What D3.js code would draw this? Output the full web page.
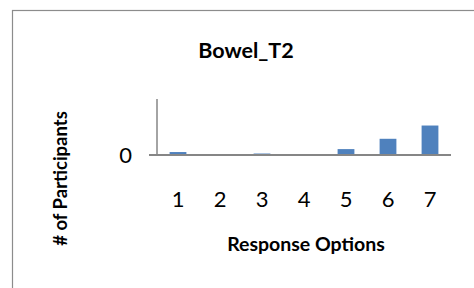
<!DOCTYPE html>
<html>
<head>
<meta charset="utf-8">
<script src="https://cdn.jsdelivr.net/npm/d3@7"></script>
<style>
  body { margin: 0; background: #fff; }
  text { font-family: Lato, "Open Sans", sans-serif; fill: #000; }
</style>
</head>
<body>
<svg width="474" height="288"></svg>
<script>
const categories = ["1", "2", "3", "4", "5", "6", "7"];
const participants = [2, 0, 1, 0, 4, 11, 20];
const yTicks = [0];

const svg = d3.select("svg"),
    margin = {top: 99, right: 23, bottom: 133, left: 157};
const width = +svg.attr("width") - margin.left - margin.right,
    height = +svg.attr("height") - margin.top - margin.bottom;

// chart frame (cut off at right and bottom)
svg.append("rect")
  .attr("x", 12.5).attr("y", 10.5)
  .attr("width", 480).attr("height", 300)
  .attr("fill", "none")
  .attr("stroke", "#8c8c8c")
  .attr("stroke-width", 1.2);

const x = d3.scaleBand().domain(categories).range([0, width]).paddingInner(0.6).paddingOuter(0.3);
const y = d3.scaleLinear().domain([0, 38]).range([height, 0]);

const g = svg.append("g")
  .attr("transform", "translate(" + margin.left + "," + margin.top + ")");

g.selectAll(".bar").data(participants)
  .enter().append("rect")
    .attr("class", "bar")
    .attr("x", (d, i) => x(categories[i]))
    .attr("y", d => y(d))
    .attr("width", x.bandwidth())
    .attr("height", d => y(0) - y(d))
    .attr("fill", "#4f81bd");

// x axis
const axisX = g.append("g")
  .attr("transform", "translate(0," + height + ")")
  .call(d3.axisBottom(x).tickSize(0).tickPadding(36));
axisX.select(".domain").remove();
axisX.selectAll("text")
  .style("font-size", "22px")
  .attr("fill", "#000");
axisX.append("line")
  .attr("x1", -8).attr("x2", width)
  .attr("stroke", "#868686").attr("stroke-width", 2);

// y axis
const axisY = g.append("g")
  .call(d3.axisLeft(y).tickValues(yTicks).tickSize(0).tickPadding(25));
axisY.select(".domain").remove();
axisY.selectAll("text")
  .style("font-size", "22px")
  .attr("fill", "#000");
axisY.append("line")
  .attr("y1", 0).attr("y2", height)
  .attr("stroke", "#868686").attr("stroke-width", 1.5);

svg.append("text")
  .attr("x", 246).attr("y", 57.5)
  .attr("text-anchor", "middle")
  .style("font-size", "21.5px").style("font-weight", "bold")
  .text("Bowel_T2");

svg.append("text")
  .attr("x", 306).attr("y", 251)
  .attr("text-anchor", "middle")
  .style("font-size", "19.5px").style("font-weight", "bold")
  .text("Response Options");

svg.append("text")
  .attr("transform", "translate(67,178.5) rotate(-90)")
  .attr("text-anchor", "middle")
  .style("font-size", "18.5px").style("font-weight", "bold")
  .text("# of Participants");
</script>
</body>
</html>
